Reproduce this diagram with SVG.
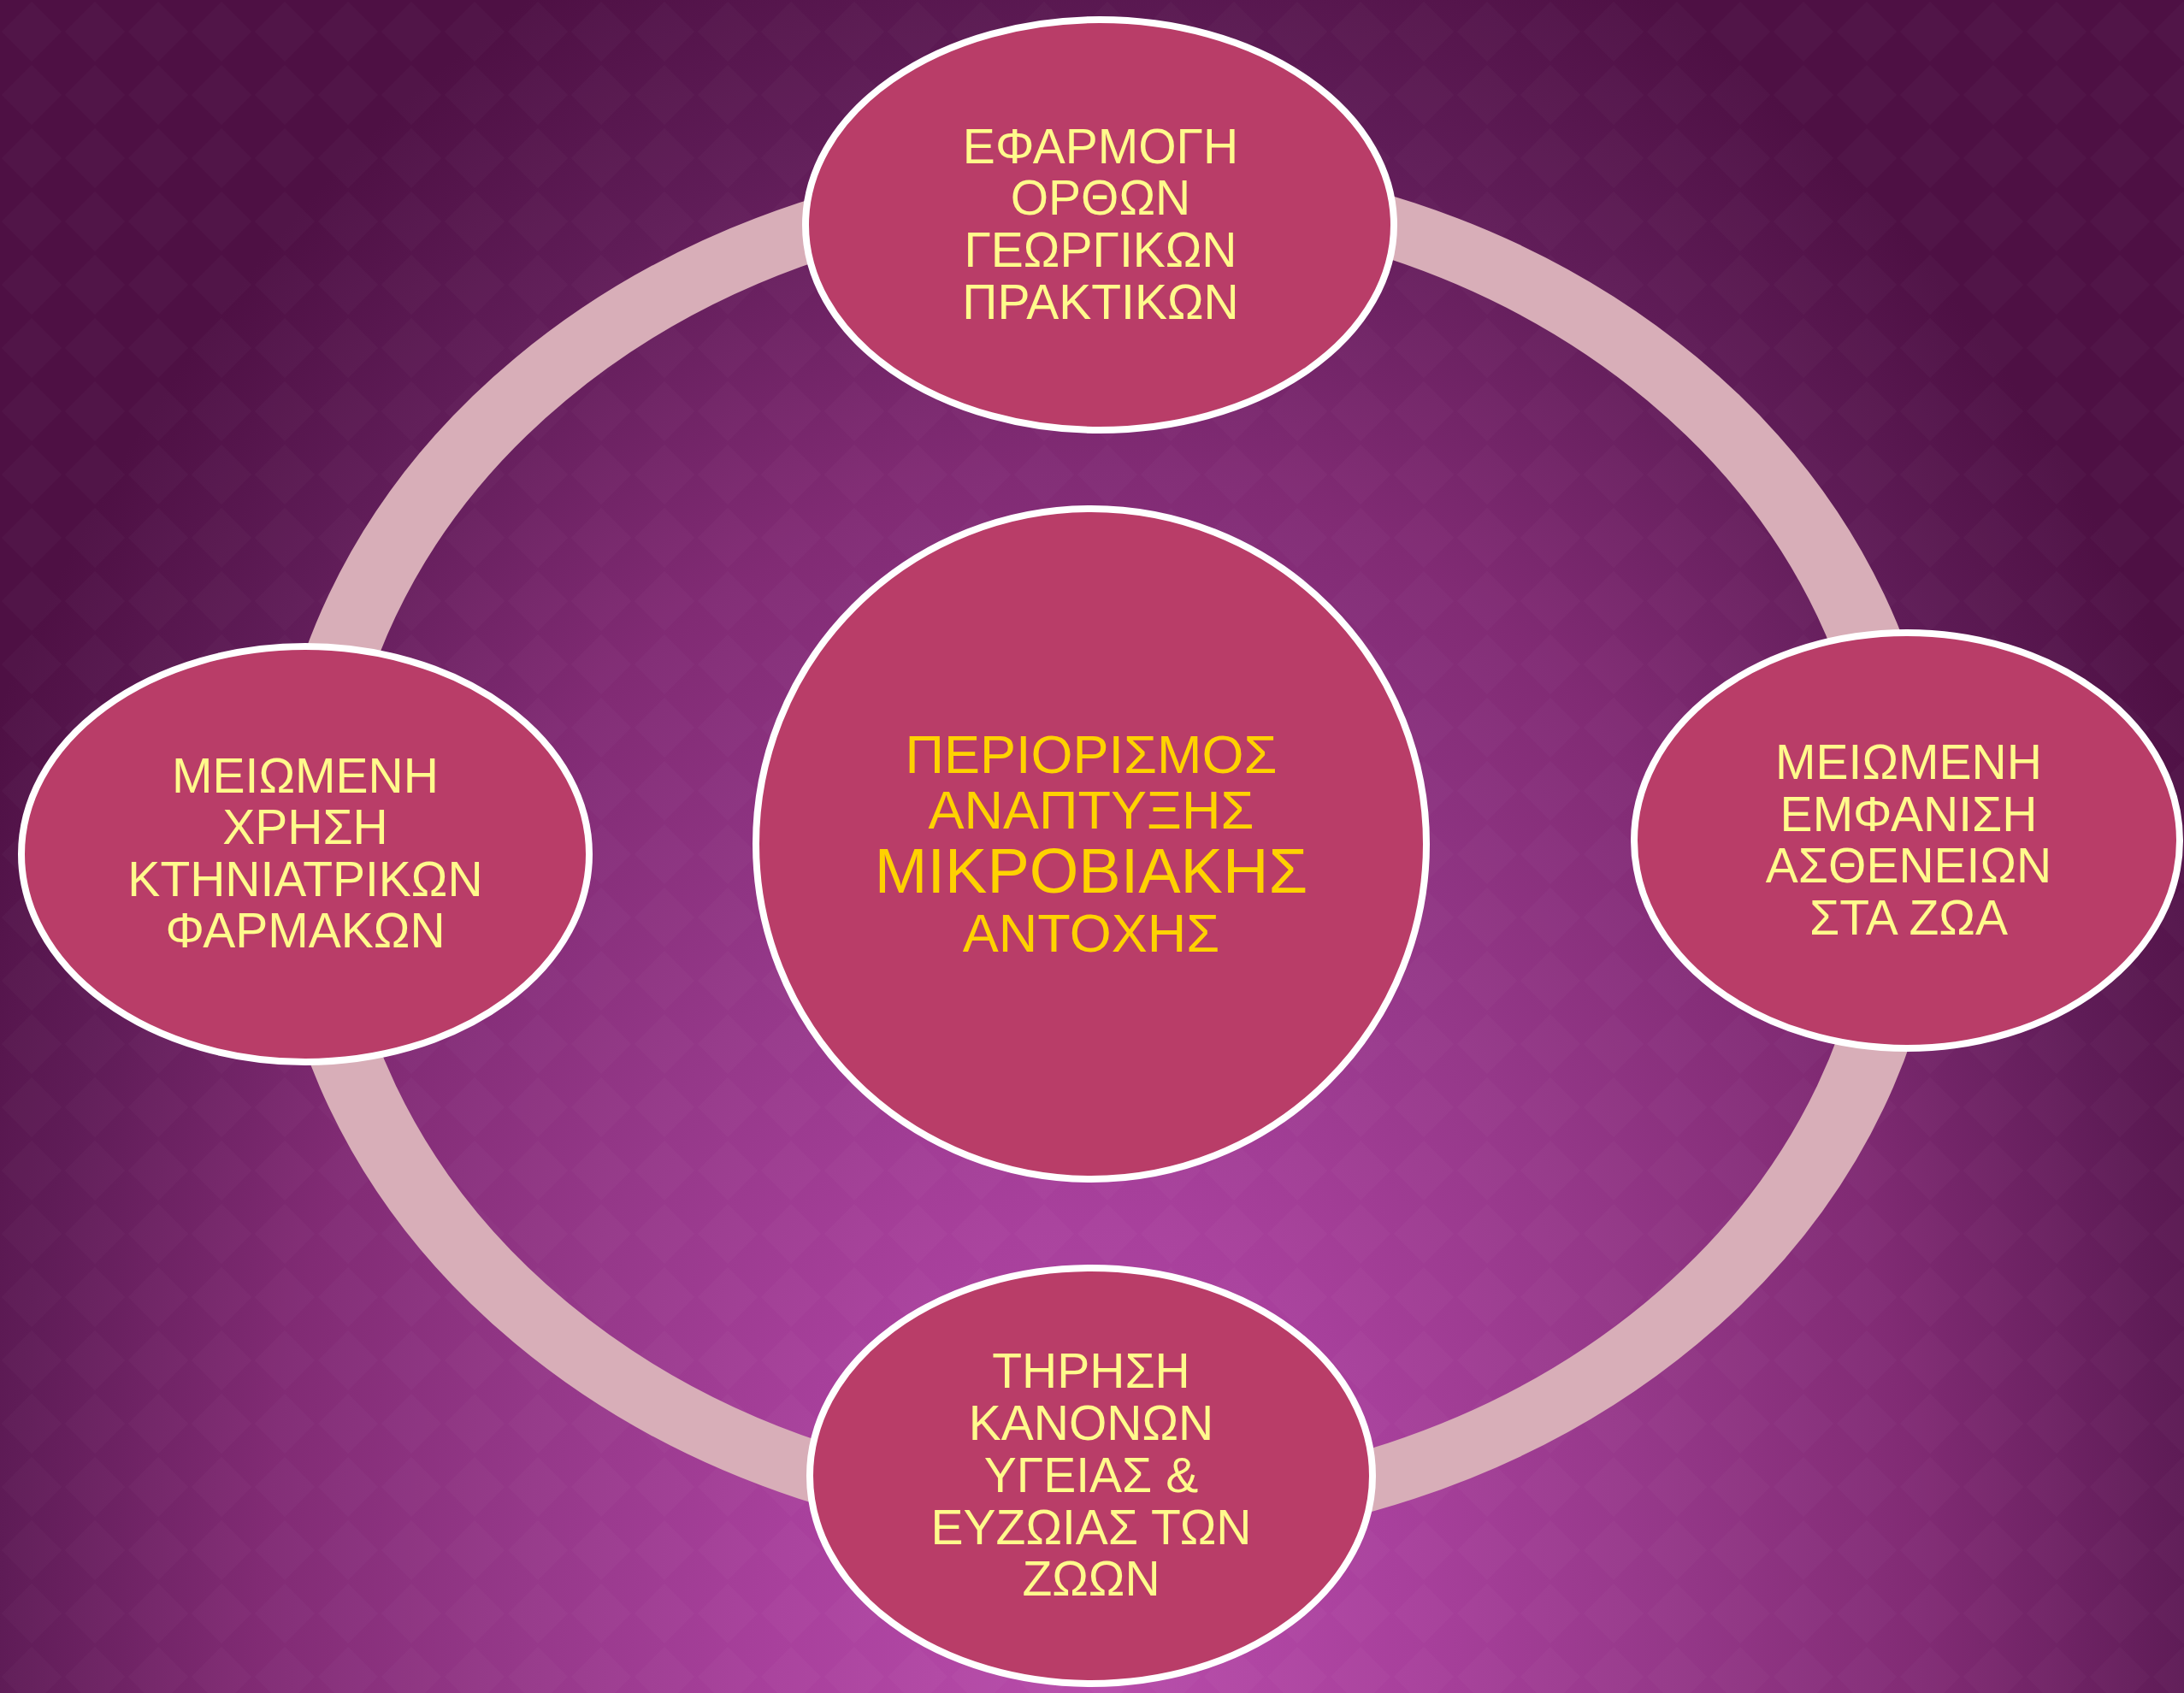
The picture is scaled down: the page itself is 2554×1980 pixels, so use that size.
<svg xmlns="http://www.w3.org/2000/svg" width="2554" height="1980" viewBox="0 0 2554 1980">
  <defs>
    <radialGradient id="bg" gradientUnits="userSpaceOnUse" cx="1277" cy="1980" r="1500" gradientTransform="translate(1277 1980) scale(1 1.47) translate(-1277 -1980)">
      <stop offset="0" stop-color="#B84CAA"/>
      <stop offset="0.25" stop-color="#A8409C"/>
      <stop offset="0.45" stop-color="#953889"/>
      <stop offset="0.65" stop-color="#812B74"/>
      <stop offset="0.85" stop-color="#5F1C57"/>
      <stop offset="1" stop-color="#4E1044"/>
    </radialGradient>
    <pattern id="diamonds" patternUnits="userSpaceOnUse" width="74" height="74">
      <polygon points="37,2 72,37 37,72 2,37" fill="#FFFFFF" fill-opacity="0.018"/>
    </pattern>
  </defs>
  <style>
    .node { fill: #B93D68; stroke: #FFFFFF; stroke-width: 8; }
    .ring { fill: none; stroke: #D8AEB8; stroke-width: 70; }
    .lbl { font-family: "Liberation Sans", Arial, sans-serif; font-size: 57px; fill: #FFFA8C; text-anchor: middle; }
    .ctr { font-family: "Liberation Sans", Arial, sans-serif; font-size: 63px; fill: #FFD200; text-anchor: middle; }
    .big { font-size: 74px; }
  </style>
  <rect x="0" y="0" width="2554" height="1980" fill="url(#bg)"/>
  <rect x="0" y="0" width="2554" height="1980" fill="url(#diamonds)"/>

  <g id="connectors">
    <circle class="ring" cx="0" cy="0" r="780" transform="translate(1294 995) scale(1.2 1)"/>
  </g>

  <g id="node-center">
    <circle class="node" cx="1276" cy="987" r="392"/>
    <text class="ctr" x="1276" y="904">ΠΕΡΙΟΡΙΣΜΟΣ</text>
    <text class="ctr" x="1276" y="969">ΑΝΑΠΤΥΞΗΣ</text>
    <text class="ctr big" x="1276" y="1044">ΜΙΚΡΟΒΙΑΚΗΣ</text>
    <text class="ctr" x="1276" y="1113">ΑΝΤΟΧΗΣ</text>
  </g>

  <g id="node-top">
    <ellipse class="node" cx="1286" cy="263" rx="344" ry="240"/>
    <text class="lbl" x="1287" y="191">ΕΦΑΡΜΟΓΗ</text>
    <text class="lbl" x="1287" y="251">ΟΡΘΩΝ</text>
    <text class="lbl" x="1287" y="312">ΓΕΩΡΓΙΚΩΝ</text>
    <text class="lbl" x="1287" y="373">ΠΡΑΚΤΙΚΩΝ</text>
  </g>

  <g id="node-left">
    <ellipse class="node" cx="357" cy="999" rx="332" ry="243"/>
    <text class="lbl" x="357" y="927">ΜΕΙΩΜΕΝΗ</text>
    <text class="lbl" x="357" y="987">ΧΡΗΣΗ</text>
    <text class="lbl" x="357" y="1048">ΚΤΗΝΙΑΤΡΙΚΩΝ</text>
    <text class="lbl" x="357" y="1108">ΦΑΡΜΑΚΩΝ</text>
  </g>

  <g id="node-right">
    <ellipse class="node" cx="2230" cy="983" rx="319" ry="243"/>
    <text class="lbl" x="2232" y="911">ΜΕΙΩΜΕΝΗ</text>
    <text class="lbl" x="2232" y="972">ΕΜΦΑΝΙΣΗ</text>
    <text class="lbl" x="2232" y="1032">ΑΣΘΕΝΕΙΩΝ</text>
    <text class="lbl" x="2232" y="1093">ΣΤΑ ΖΩΑ</text>
  </g>

  <g id="node-bottom">
    <ellipse class="node" cx="1276" cy="1726" rx="329" ry="243"/>
    <text class="lbl" x="1276" y="1623">ΤΗΡΗΣΗ</text>
    <text class="lbl" x="1276" y="1684">ΚΑΝΟΝΩΝ</text>
    <text class="lbl" x="1276" y="1745">ΥΓΕΙΑΣ &amp;</text>
    <text class="lbl" x="1276" y="1806">ΕΥΖΩΙΑΣ ΤΩΝ</text>
    <text class="lbl" x="1276" y="1866">ΖΩΩΝ</text>
  </g>
</svg>
